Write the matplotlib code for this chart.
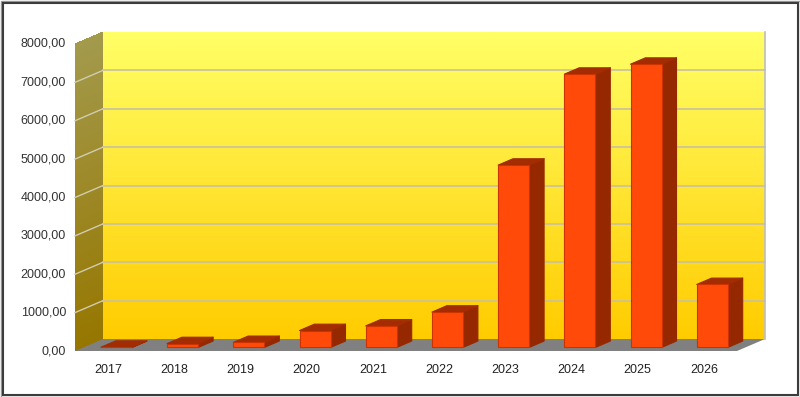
import numpy as np
import matplotlib
matplotlib.use("Agg")
import matplotlib.pyplot as plt
from matplotlib.patches import Polygon, Rectangle
from matplotlib.colors import LinearSegmentedColormap

plt.rcParams['font.family'] = ['Liberation Sans', 'DejaVu Sans']

# ---- data ----
years = ["2017", "2018", "2019", "2020", "2021", "2022", "2023", "2024", "2025", "2026"]
values = [5, 100, 130, 440, 560, 920, 4750, 7120, 7380, 1640]
yticks = [0, 1000, 2000, 3000, 4000, 5000, 6000, 7000, 8000]
ytick_labels = ["0,00", "1000,00", "2000,00", "3000,00", "4000,00",
                "5000,00", "6000,00", "7000,00", "8000,00"]

W, H = 800, 397
fig = plt.figure(figsize=(W / 100, H / 100), dpi=100)
fig.patch.set_facecolor('white')

# back wall in pixels
bx0, bx1, by_top, by_bot = 103, 765, 32, 339
ax = fig.add_axes([bx0 / W, (H - by_bot) / H, (bx1 - bx0) / W, (by_bot - by_top) / H])
n = len(years)
ymax = 8000
ax.set_xlim(0, n)
ax.set_ylim(0, ymax)
ax.axis('off')

px_x = (bx1 - bx0) / n
px_y = (by_bot - by_top) / ymax
dxf = -28 / px_x          # full depth offset (back -> front), data units
dyf = -12 / px_y

# back wall gradient
wall_cmap = LinearSegmentedColormap.from_list('w', ['#ffcc00', '#ffff66'])
grad = np.linspace(0, 1, 256).reshape(-1, 1)
ax.imshow(grad, extent=[0, n, 0, ymax], origin='lower', aspect='auto',
          cmap=wall_cmap, zorder=0, clip_on=False)
ax.set_xlim(0, n)
ax.set_ylim(0, ymax)

# left wall gradient drawn as overlapping strips
lw_cmap = LinearSegmentedColormap.from_list('l', ['#967600', '#a39a4c'])
nstrip = 80
edges = np.linspace(0, ymax, nstrip + 1)
step = edges[1] - edges[0]
for k in range(nstrip):
    y0 = edges[k]
    y1 = min(edges[k + 1] + 0.8 * step, ymax) if k < nstrip - 1 else ymax
    c = lw_cmap((k + 0.5) / nstrip)
    ax.add_patch(Polygon([(0, y0), (0, y1), (dxf, y1 + dyf), (dxf, y0 + dyf)],
                         closed=True, facecolor=c, edgecolor='none',
                         antialiased=False, zorder=0.5 + k * 1e-4, clip_on=False))

# floor
floor = Polygon([(0, 0), (n, 0), (n + dxf, dyf), (dxf, dyf)], closed=True,
                facecolor='#808080', edgecolor='none', zorder=1, clip_on=False)
ax.add_patch(floor)

# gridlines on back wall and left wall
for t in yticks[1:-1]:
    ax.plot([0, n], [t, t], color='#c8c0a0', lw=1.2, zorder=0.8, clip_on=False)
    ax.plot([dxf, 0], [t + dyf, t], color='#d0ccb0', lw=1.0, zorder=0.8, clip_on=False)

# right edge of back wall
ax.plot([n, n], [0, ymax], color='#bdbdbd', lw=1.2, zorder=0.9, clip_on=False)

# y labels
for t, lab in zip(yticks, ytick_labels):
    ax.annotate(lab, xy=(dxf, t + dyf), xytext=(-9, 0), textcoords='offset pixels',
                ha='right', va='center', fontsize=9, color='#333333',
                annotation_clip=False)

# bars
fo, bo = 0.70, 0.17
fx, fy = fo * dxf, fo * dyf
bx, by = bo * dxf, bo * dyf
w = 0.47
face_c, side_c, top_c = '#ff4a0a', '#962800', '#a32c02'
centers = np.arange(n) + 0.5
for cx, v in zip(centers, values):
    side = Polygon([(cx + w / 2 + fx, fy), (cx + w / 2 + fx, v + fy),
                    (cx + w / 2 + bx, v + by), (cx + w / 2 + bx, by)],
                   closed=True, facecolor=side_c, edgecolor=side_c, lw=0.8,
                   joinstyle='round', zorder=2, clip_on=False)
    top = Polygon([(cx - w / 2 + fx, v + fy), (cx + w / 2 + fx, v + fy),
                   (cx + w / 2 + bx, v + by), (cx - w / 2 + bx, v + by)],
                  closed=True, facecolor=top_c, edgecolor=top_c, lw=0.8,
                  joinstyle='round', zorder=2, clip_on=False)
    ax.add_patch(side)
    ax.add_patch(top)
ax.bar(centers + fx, values, bottom=fy, width=w, color=face_c,
       edgecolor='#cc3300', linewidth=0.8, zorder=3, clip_on=False)

# x labels
for cx, lab in zip(centers, years):
    ax.annotate(lab, xy=(cx + dxf, dyf), xytext=(0, -19), textcoords='offset pixels',
                ha='center', va='center', fontsize=9, color='#222222',
                annotation_clip=False)

# frame
fig.patches.append(Rectangle((0.5 / W, 0.5 / H), 1 - 1 / W, 1 - 1 / H,
                             transform=fig.transFigure, fill=False,
                             edgecolor='#9a9a9a', lw=1.0))
fig.patches.append(Rectangle((2.5 / W, 2.5 / H), 1 - 5 / W, 1 - 5 / H,
                             transform=fig.transFigure, fill=False,
                             edgecolor='#3c3c3c', lw=1.5))

fig.savefig('out.png', dpi=100)
